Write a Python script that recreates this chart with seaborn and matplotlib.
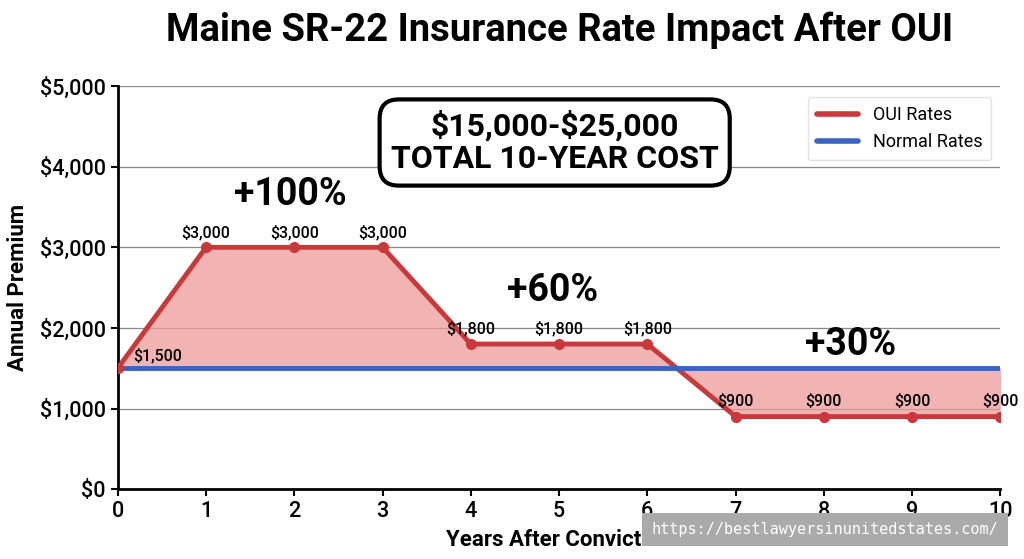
import numpy as np
import pandas as pd
import matplotlib
matplotlib.use("Agg")
import matplotlib.pyplot as plt
import seaborn as sns

# ---- data ----
years = [0, 1, 2, 3, 4, 5, 6, 7, 8, 9, 10]
oui_rates = [1500, 3000, 3000, 3000, 1800, 1800, 1800, 900, 900, 900, 900]
normal_rates = [1500] * 11
point_labels = ["\\$1,500", "\\$3,000", "\\$3,000", "\\$3,000", "\\$1,800", "\\$1,800",
                "\\$1,800", "\\$900", "\\$900", "\\$900", "\\$900"]
phase_labels = ["+100%", "+60%", "+30%"]
phase_x = [1.95, 4.93, 8.3]
phase_y = [3650, 2470, 1790]

df = pd.DataFrame({"Year": years, "OUI Rates": oui_rates, "Normal Rates": normal_rates})
long_df = df.melt(id_vars="Year", var_name="Series", value_name="Premium")

sns.set_style("white")
plt.rcParams["font.family"] = ["Roboto", "DejaVu Sans"]
plt.rcParams["text.color"] = "black"
plt.rcParams["axes.labelcolor"] = "black"
plt.rcParams["xtick.color"] = "black"
plt.rcParams["ytick.color"] = "black"

RED = "#c9383a"
BLUE = "#3a62c2"

fig = plt.figure(figsize=(10.24, 5.59), dpi=100)
ax = fig.add_axes([0.115, 0.125, 0.862, 0.721])

ax.fill_between(df["Year"], df["OUI Rates"], df["Normal Rates"],
                color="#ee9a9a", alpha=0.75, linewidth=0, zorder=1)

sns.lineplot(data=long_df, x="Year", y="Premium", hue="Series",
             palette={"OUI Rates": RED, "Normal Rates": BLUE},
             linewidth=3.5, ax=ax, zorder=3, legend=True)
ax.plot(df["Year"], df["OUI Rates"], "o", color=RED, markersize=7, zorder=4)

# point labels
for i, (x, y, lab) in enumerate(zip(years, oui_rates, point_labels)):
    if i == 0:
        ax.text(x + 0.18, y + 60, lab, ha="left", va="bottom", fontsize=11.5,
                fontweight="medium", zorder=5)
    else:
        ax.text(x, y + 90, lab, ha="center", va="bottom", fontsize=11.5,
                fontweight="medium", zorder=5)

for lab, x, y in zip(phase_labels, phase_x, phase_y):
    ax.text(x, y, lab, ha="center", va="center", fontsize=27,
            fontweight="bold", zorder=5)

ax.text(4.95, 4300, "\\$15,000-\\$25,000\nTOTAL 10-YEAR COST", ha="center", va="center",
        fontsize=23, fontweight="bold", linespacing=1.1, zorder=6,
        bbox=dict(boxstyle="round,pad=0.35,rounding_size=0.6", facecolor="white",
                  edgecolor="black", linewidth=3))

ax.set_xlim(0, 10)
ax.set_ylim(0, 5000)
ax.set_xticks(years)
ax.set_yticks([0, 1000, 2000, 3000, 4000, 5000])
ax.set_yticklabels(["\\$0", "\\$1,000", "\\$2,000", "\\$3,000", "\\$4,000", "\\$5,000"])
ax.yaxis.grid(True, color="#888888", linewidth=0.9, zorder=0)
ax.set_axisbelow(True)
ax.tick_params(axis="both", labelsize=15.5, length=5, width=1.5, left=True, bottom=True)
for t in ax.get_xticklabels() + ax.get_yticklabels():
    t.set_fontweight("medium")

for s in ["top", "right"]:
    ax.spines[s].set_visible(False)
for s in ["left", "bottom"]:
    ax.spines[s].set_color("black")
    ax.spines[s].set_linewidth(2)

ax.set_xlabel("Years After Conviction", fontsize=16, fontweight="bold", labelpad=5)
ax.set_ylabel("Annual Premium", fontsize=16, fontweight="bold", labelpad=8)

leg = ax.legend(loc="upper right", fontsize=13, frameon=True, handlelength=2.3,
                borderpad=0.5, bbox_to_anchor=(1.0, 0.995))
leg.set_title(None)
leg.get_frame().set_edgecolor("#dddddd")
for line in leg.get_lines():
    line.set_linewidth(4)

fig.suptitle("Maine SR-22 Insurance Rate Impact After OUI", fontsize=27.5,
             fontweight="bold", x=0.546, y=0.98)

# watermark
fig.text(0.975, 0.053, "https://bestlawyersinunitedstates.com/", ha="right", va="center",
         fontsize=11, color="white", family="DejaVu Sans Mono",
         bbox=dict(boxstyle="square,pad=0.6", facecolor="#aaaaaa", edgecolor="none"))

fig.savefig("out.png", dpi=100)
